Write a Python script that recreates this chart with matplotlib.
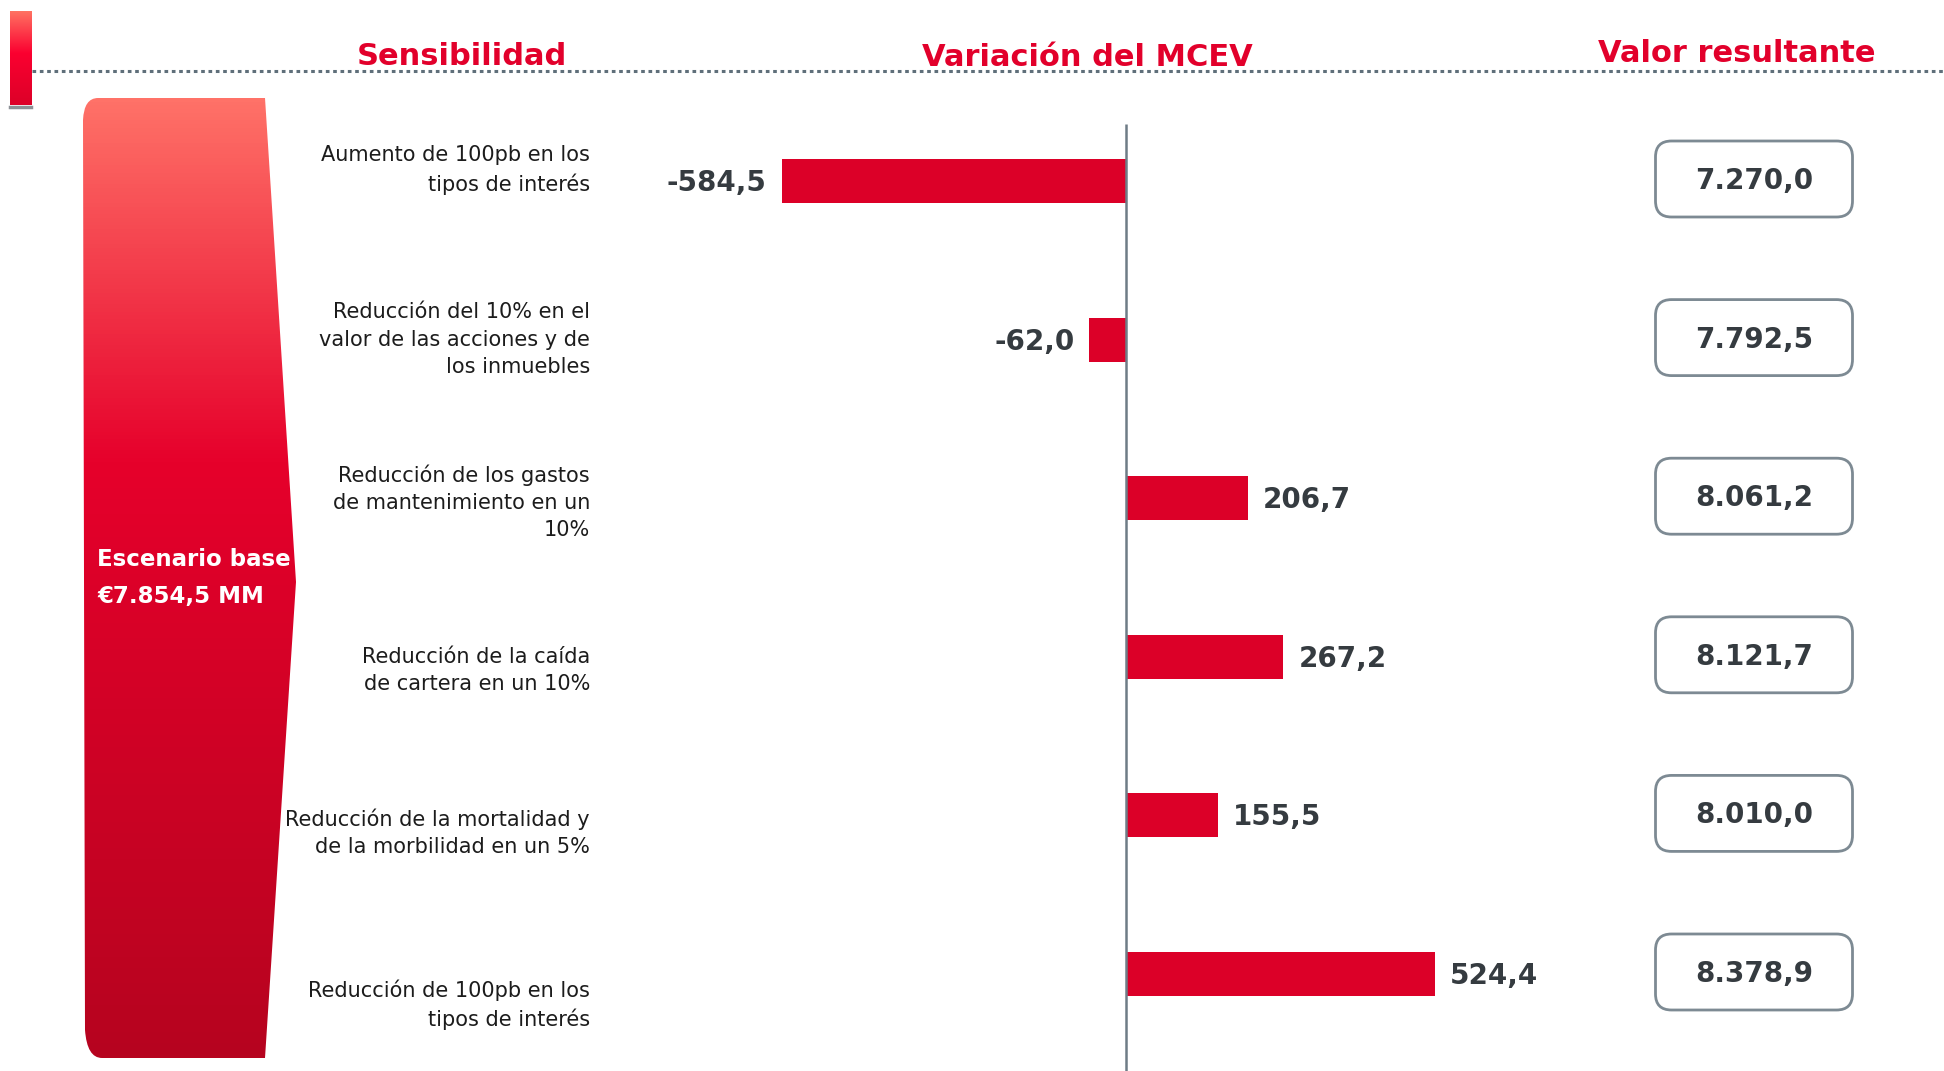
import numpy as np
import matplotlib.pyplot as plt
from matplotlib.path import Path
from matplotlib.patches import PathPatch, FancyBboxPatch
from matplotlib.colors import LinearSegmentedColormap

# data
sensitivities = [
    "Aumento de 100pb en los\ntipos de interés",
    "Reducción del 10% en el\nvalor de las acciones y de\nlos inmuebles",
    "Reducción de los gastos\nde mantenimiento en un\n10%",
    "Reducción de la caída\nde cartera en un 10%",
    "Reducción de la mortalidad y\nde la morbilidad en un 5%",
    "Reducción de 100pb en los\ntipos de interés",
]
variation = [-584.5, -62.0, 206.7, 267.2, 155.5, 524.4]
resulting = [7270.0, 7792.5, 8061.2, 8121.7, 8010.0, 8378.9]
base_value = 7854.5

headers = ["Sensibilidad", "Variación del MCEV", "Valor resultante"]

RED = "#e2002b"
BAR = "#dc0028"
GREY = "#6e7c86"
NUM = "#353b40"

W, H = 1944, 1071
zero_px, unit_px = 1126, 0.589      # x position of 0, pixels per unit
first_px, step_px = 181, 158.6      # y of first bar, pixels between bars


def es(v):
    s = "{:,.1f}".format(v)
    return s.replace(",", "X").replace(".", ",").replace("X", ".")


fig = plt.figure(figsize=(W / 100, H / 100), dpi=100)

# decoration layer in pixel coordinates
deco = fig.add_axes([0, 0, 1, 1])
deco.set_xlim(0, W)
deco.set_ylim(H, 0)
deco.axis("off")

# small bar top left
small_cmap = LinearSegmentedColormap.from_list(
    "s", [(0, "#ff7262"), (0.45, "#fb0030"), (1, "#dc0028")])
deco.imshow(np.linspace(0, 1, 256).reshape(-1, 1), extent=(10, 31, 105, 11),
            cmap=small_cmap, aspect="auto", zorder=1)
deco.plot([10, 31], [106.5, 106.5], color="#8c9095", lw=2.5, zorder=1)

# dotted rule
deco.plot([32, W], [71, 71], color="#5f6f7a", lw=2.2,
          ls=(0, (1.2, 1.2)), zorder=1)

# headers
header_x = [462, 1087, 1737]
header_y = [65, 66, 62]
for t, x, y in zip(headers, header_x, header_y):
    deco.text(x, y, t, color=RED, fontsize=22, fontweight="bold",
              ha="center", va="baseline")

# base scenario shape
verts = [(98, 98), (265, 98), (296, 582), (265, 1058), (102, 1058),
         (87, 1058), (85, 1030), (83, 120), (84, 98), (98, 98), (98, 98)]
codes = [Path.MOVETO, Path.LINETO, Path.LINETO, Path.LINETO, Path.LINETO,
         Path.CURVE3, Path.CURVE3, Path.LINETO, Path.CURVE3, Path.CURVE3,
         Path.CLOSEPOLY]
shape = PathPatch(Path(verts, codes), fc="none", ec="none")
deco.add_patch(shape)
big_cmap = LinearSegmentedColormap.from_list(
    "b", [(0, "#ff7268"), (0.38, "#e6002b"), (1, "#b6041f")])
img = deco.imshow(np.linspace(0, 1, 256).reshape(-1, 1),
                  extent=(83, 296, 1058, 98), cmap=big_cmap, aspect="auto")
img.set_clip_path(shape)
deco.text(97, 578, "Escenario base\n€" + es(base_value) + " MM", color="white",
          fontsize=16.5, fontweight="bold", ha="left", va="center",
          linespacing=1.75)

# bar chart
ax = fig.add_axes([0, 0, 1, 1], facecolor="none")
ax.set_xlim(-zero_px / unit_px, (W - zero_px) / unit_px)
ax.set_ylim((H - first_px) / step_px, -first_px / step_px)
ax.axis("off")

ypos = np.arange(len(variation))
ax.barh(ypos, variation, height=44 / step_px, color=BAR, zorder=2)
ax.vlines(0, (124 - first_px) / step_px, (H - first_px) / step_px,
          color=GREY, lw=1.8, zorder=3)

gap = 15 / unit_px
for y, v in zip(ypos, variation):
    if v < 0:
        ax.text(v - gap, y + 2 / step_px, es(v), ha="right", va="center",
                fontsize=20, fontweight="bold", color=NUM)
    else:
        ax.text(v + gap, y + 2 / step_px, es(v), ha="left", va="center",
                fontsize=20, fontweight="bold", color=NUM)

# category labels
label_x = (590 - zero_px) / unit_px
label_shift = [-11, 0, 4, 14, 17, 31]
for y, t, s in zip(ypos, sensitivities, label_shift):
    ax.text(label_x, y + s / step_px, t, ha="right", va="center",
            multialignment="right", fontsize=15, color="#1c1c1c",
            linespacing=1.45)

# resulting value boxes
box_cx = (1754 - zero_px) / unit_px
box_w = 197 / unit_px
box_h = 76 / step_px
for y, v in zip(ypos, resulting):
    yc = y - 2 / step_px
    ax.add_patch(FancyBboxPatch(
        (box_cx - box_w / 2, yc - box_h / 2), box_w, box_h,
        boxstyle="round,pad=0,rounding_size={}".format(16 / unit_px),
        mutation_aspect=unit_px / step_px,
        fc="white", ec="#7d8a93", lw=2, zorder=2))
    ax.text(box_cx, yc + 2 / step_px, es(v), ha="center", va="center",
            fontsize=20, fontweight="bold", color=NUM, zorder=3)

fig.savefig("out.png", dpi=100)
